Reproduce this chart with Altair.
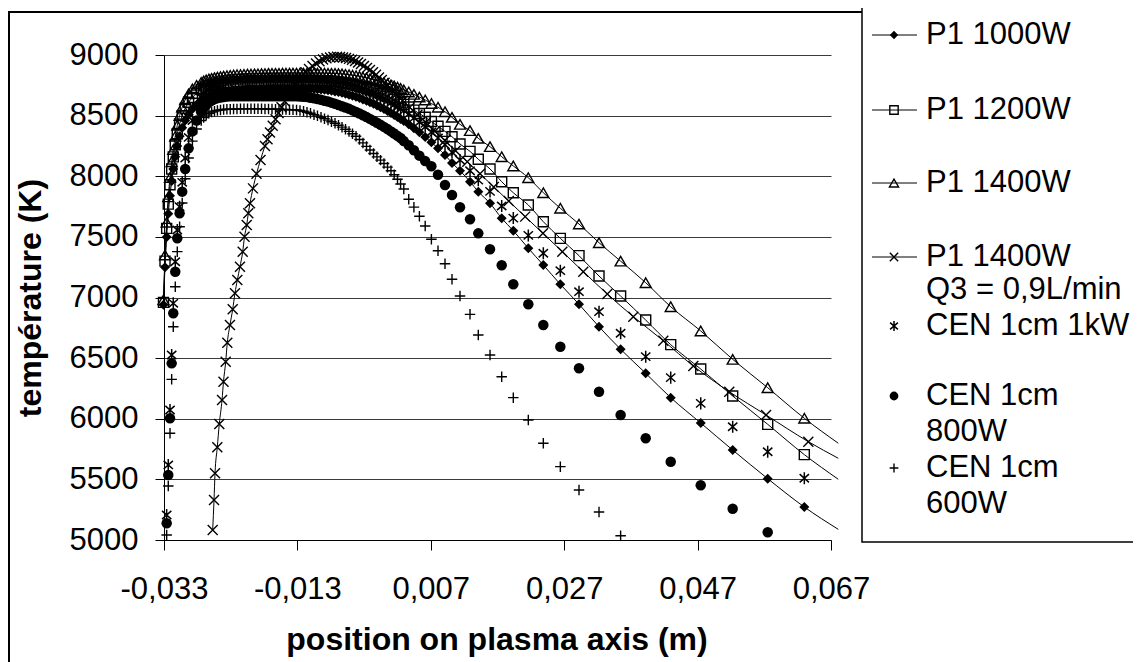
import altair as alt
import pandas as pd

# ---------------- data ----------------
# shared x positions (m) of the six main series
x_mesh = [-0.03308, -0.03285, -0.03260, -0.03236, -0.03210, -0.03185, -0.03161, -0.03131, -0.03101, -0.03066,
          -0.03027, -0.02982, -0.02931, -0.02874, -0.02811, -0.02742, -0.02705, -0.02667, -0.02627, -0.02586,
          -0.02543, -0.02499, -0.02453, -0.02406, -0.02357, -0.02307, -0.02257, -0.02206, -0.02153, -0.02101,
          -0.02048, -0.01996, -0.01943, -0.01891, -0.01838, -0.01786, -0.01733, -0.01681, -0.01628, -0.01576,
          -0.01523, -0.01471, -0.01418, -0.01366, -0.01313, -0.01261, -0.01208, -0.01156, -0.01104, -0.01051,
          -0.00999, -0.00946, -0.00894, -0.00841, -0.00789, -0.00736, -0.00684, -0.00631, -0.00579, -0.00526,
          -0.00474, -0.00421, -0.00369, -0.00317, -0.00264, -0.00212, -0.00159, -0.00107, -0.00054, -0.00002,
          0.00051, 0.00103, 0.00151, 0.00201, 0.00247, 0.00295, 0.00369, 0.00447, 0.00529, 0.00616,
          0.00709, 0.00808, 0.00913, 0.01018, 0.01138, 0.01288, 0.01412, 0.01588, 0.01763, 0.01937,
          0.02162, 0.02387, 0.02642, 0.02922, 0.03222, 0.03546, 0.03922, 0.04297, 0.04747, 0.05226,
          0.05751, 0.06300, 0.06809]

p1_1000w = [6940, 7250, 7500, 7690, 7840, 7960, 8060, 8160, 8250, 8330,
            8400, 8460, 8510, 8555, 8590, 8620, 8633, 8645, 8655, 8665,
            8673, 8680, 8686, 8692, 8696, 8700, 8703, 8706, 8709, 8711,
            8713, 8714, 8715, 8716, 8717, 8718, 8719, 8719, 8720, 8720,
            8720, 8720, 8720, 8720, 8720, 8720, 8720, 8720, 8720, 8719,
            8718, 8716, 8713, 8709, 8705, 8700, 8694, 8688, 8681, 8673,
            8664, 8655, 8645, 8634, 8623, 8611, 8598, 8584, 8570, 8555,
            8539, 8522, 8506, 8488, 8472, 8456, 8428, 8396, 8362, 8323,
            8280, 8231, 8175, 8110, 8046, 7955, 7873, 7777, 7653, 7551,
            7406, 7268, 7109, 6944, 6759, 6573, 6375, 6174, 5965, 5742,
            5506, 5272, 5088]

p1_1200w = [6960, 7300, 7570, 7770, 7930, 8060, 8160, 8260, 8350, 8430,
            8500, 8560, 8610, 8650, 8685, 8715, 8725, 8735, 8743, 8750,
            8755, 8760, 8764, 8768, 8771, 8774, 8776, 8778, 8780, 8782,
            8784, 8785, 8786, 8787, 8788, 8789, 8790, 8790, 8790, 8790,
            8790, 8790, 8790, 8790, 8790, 8790, 8790, 8790, 8790, 8790,
            8790, 8789, 8788, 8786, 8783, 8780, 8776, 8772, 8767, 8761,
            8755, 8748, 8740, 8732, 8723, 8714, 8704, 8694, 8682, 8670,
            8658, 8646, 8633, 8620, 8607, 8593, 8571, 8545, 8517, 8487,
            8451, 8412, 8370, 8326, 8266, 8205, 8140, 8060, 7955, 7864,
            7763, 7625, 7488, 7345, 7177, 7012, 6814, 6611, 6410, 6188,
            5954, 5704, 5501]

p1_1400w = [6980, 7350, 7620, 7830, 7990, 8120, 8220, 8330, 8420, 8500,
            8570, 8630, 8680, 8720, 8750, 8775, 8786, 8795, 8802, 8808,
            8813, 8818, 8822, 8826, 8829, 8832, 8835, 8837, 8839, 8840,
            8842, 8843, 8844, 8845, 8846, 8847, 8848, 8848, 8849, 8849,
            8850, 8850, 8850, 8850, 8850, 8850, 8850, 8850, 8850, 8850,
            8850, 8850, 8850, 8849, 8849, 8848, 8846, 8844, 8841, 8837,
            8833, 8829, 8824, 8818, 8812, 8805, 8798, 8790, 8781, 8772,
            8763, 8754, 8745, 8735, 8724, 8713, 8695, 8675, 8653, 8629,
            8600, 8569, 8532, 8486, 8428, 8376, 8313, 8244, 8161, 8085,
            7988, 7864, 7736, 7606, 7452, 7300, 7122, 6924, 6724, 6490,
            6256, 6004, 5798]

cen_1kw = [None, None, 5206, 5619, 6072, 6526, 6952, 7295, 7557, 7749,
           7950, 8150, 8320, 8460, 8570, 8650, 8683, 8710, 8730, 8745,
           8759, 8770, 8778, 8785, 8789, 8793, 8796, 8798, 8800, 8801,
           8802, 8803, 8804, 8804, 8805, 8805, 8805, 8805, 8805, 8805,
           8805, 8805, 8805, 8805, 8805, 8805, 8805, 8805, 8805, 8804,
           8803, 8801, 8798, 8794, 8790, 8785, 8779, 8773, 8766, 8758,
           8749, 8740, 8730, 8719, 8708, 8696, 8683, 8669, 8655, 8640,
           8624, 8607, 8591, 8573, 8557, 8541, 8513, 8481, 8447, 8408,
           8365, 8316, 8260, 8198, 8134, 8045, 7968, 7875, 7755, 7655,
           7512, 7365, 7221, 7048, 6883, 6705, 6512, 6339, 6127, 5934,
           5728, 5509, None]

cen_800w = [None, None, 5138, 5536, 6004, 6457, 6870, 7213, 7488, 7694,
            7873, 8060, 8230, 8370, 8460, 8530, 8565, 8590, 8610, 8625,
            8636, 8644, 8650, 8654, 8657, 8659, 8660, 8660, 8660, 8660,
            8660, 8660, 8660, 8660, 8660, 8660, 8660, 8660, 8660, 8660,
            8660, 8660, 8660, 8660, 8660, 8658, 8656, 8653, 8648, 8643,
            8637, 8631, 8623, 8616, 8607, 8598, 8588, 8578, 8567, 8556,
            8543, 8530, 8517, 8503, 8488, 8473, 8457, 8441, 8424, 8407,
            8389, 8370, 8352, 8333, 8315, 8290, 8255, 8215, 8170, 8125,
            8082, 8012, 7928, 7845, 7744, 7645, 7529, 7398, 7266, 7109,
            6944, 6773, 6594, 6416, 6223, 6031, 5839, 5646, 5451, 5258,
            5064, None, None]

cen_600w = [None, None, 5041, 5445, 5880, 6325, 6759, 7089, 7378, 7584,
            7780, 7980, 8150, 8290, 8390, 8460, 8485, 8505, 8520, 8530,
            8537, 8543, 8547, 8550, 8552, 8553, 8554, 8555, 8556, 8556,
            8556, 8556, 8556, 8556, 8556, 8555, 8555, 8554, 8553, 8552,
            8551, 8550, 8549, 8548, 8546, 8542, 8536, 8528, 8519, 8508,
            8498, 8487, 8475, 8463, 8450, 8437, 8421, 8405, 8388, 8370,
            8350, 8330, 8303, 8275, 8246, 8216, 8188, 8160, 8133, 8105,
            8075, 8045, 8012, 7975, 7936, 7895, 7810, 7745, 7670, 7590,
            7480, 7385, 7278, 7150, 7012, 6861, 6691, 6526, 6347, 6174,
            5990, 5798, 5605, 5412, 5231, 5035, None, None, None, None,
            None, None, None]

# P1 1400W, Q3 = 0,9 L/min has its own positions
q3_x = [-0.02570, -0.02550, -0.02535, -0.02501, -0.02471, -0.02430, -0.02408, -0.02375, -0.02351, -0.02311,
        -0.02270, -0.02236, -0.02201, -0.02161, -0.02120, -0.02093, -0.02060, -0.02036, -0.02011, -0.01966,
        -0.01913, -0.01853, -0.01786, -0.01748, -0.01711, -0.01670, -0.01628, -0.01583, -0.01538, -0.01490,
        -0.01441, -0.01389, -0.01336, -0.01283, -0.01231, -0.01179, -0.01126, -0.01074, -0.01021, -0.00969,
        -0.00916, -0.00864, -0.00811, -0.00759, -0.00706, -0.00661, -0.00616, -0.00571, -0.00526, -0.00481,
        -0.00436, -0.00391, -0.00347, -0.00302, -0.00257, -0.00212, -0.00167, -0.00122, -0.00077, -0.00035,
        0.00007, 0.00048, 0.00090, 0.00135, 0.00180, 0.00228, 0.00277, 0.00384, 0.00499, 0.00625,
        0.00761, 0.00910, 0.01072, 0.01247, 0.01438, 0.01644, 0.01869, 0.02115, 0.02382, 0.02672,
        0.02986, 0.03346, 0.03736, 0.04186, 0.04636, 0.05175, 0.05726, 0.06360, 0.06809]
q3_y = [5082, 5330, 5550, 5765, 5957, 6155, 6306, 6470, 6627, 6773,
        6903, 7035, 7144, 7254, 7378, 7501, 7598, 7694, 7777, 7900,
        8020, 8135, 8250, 8306, 8360, 8416, 8470, 8521, 8570, 8619,
        8665, 8709, 8750, 8789, 8825, 8857, 8885, 8909, 8930, 8948,
        8962, 8973, 8980, 8984, 8985, 8983, 8980, 8975, 8968, 8960,
        8950, 8938, 8925, 8910, 8893, 8876, 8857, 8837, 8815, 8794,
        8772, 8750, 8726, 8701, 8676, 8650, 8624, 8568, 8508, 8443,
        8372, 8295, 8210, 8119, 8020, 7912, 7795, 7667, 7529, 7378,
        7213, 7029, 6842, 6644, 6435, 6223, 6031, 5811, 5674]

series_names = ["P1 1000W", "P1 1200W", "P1 1400W", "P1 1400W Q3 = 0,9L/min",
                "CEN 1cm 1kW", "CEN 1cm 800W", "CEN 1cm 600W"]
legend_lines = [["P1 1000W"], ["P1 1200W"], ["P1 1400W"], ["P1 1400W", "Q3 = 0,9L/min"],
                ["CEN 1cm 1kW"], ["CEN 1cm", "800W"], ["CEN 1cm", "600W"]]

x_ticks = [-0.033, -0.013, 0.007, 0.027, 0.047, 0.067]
y_ticks = [5000, 5500, 6000, 6500, 7000, 7500, 8000, 8500, 9000]

# ---------------- build table ----------------
rows = []
for name, xs, ys in [(series_names[0], x_mesh, p1_1000w), (series_names[1], x_mesh, p1_1200w),
                     (series_names[2], x_mesh, p1_1400w), (series_names[3], q3_x, q3_y),
                     (series_names[4], x_mesh, cen_1kw), (series_names[5], x_mesh, cen_800w),
                     (series_names[6], x_mesh, cen_600w)]:
    for xv, yv in zip(xs, ys):
        if yv is not None:
            rows.append({"series": name, "x": xv, "y": yv})
df = pd.DataFrame(rows)

FONT = "Liberation Sans"
FS = 31
TFS = 32
PLOT_W, PLOT_H = 667, 485

XSHAPE = "M-1,-1L1,1M-1,1L1,-1"
STAR = "M0,-1.1L0,1.1M-0.85,-0.75L0.85,0.75M-0.85,0.75L0.85,-0.75"
PLUS = "M-1,0L1,0M0,-1L0,1"

styles = [
    dict(shape="diamond", filled=True, size=100, sw=1, line=True),
    dict(shape="square", filled=False, size=100, sw=1.4, line=True),
    dict(shape="triangle-up", filled=False, size=120, sw=1.4, line=True),
    dict(shape=XSHAPE, filled=False, size=100, sw=1.4, line=True),
    dict(shape=STAR, filled=False, size=120, sw=1.5, line=False),
    dict(shape="circle", filled=True, size=110, sw=1, line=False),
    dict(shape=PLUS, filled=False, size=110, sw=1.4, line=False),
]

x_enc = alt.X("x:Q",
              scale=alt.Scale(domain=[-0.033, 0.067], nice=False, zero=False),
              axis=alt.Axis(values=x_ticks,
                            labelExpr="(datum.value < 0 ? '-' : '') + replace(format(abs(datum.value), '.3f'), '.', ',')",
                            grid=False, tickSize=10, labelPadding=24, labelFontSize=FS, labelFont=FONT,
                            labelColor="black", domainColor="black", tickColor="black",
                            labelFlush=False, labelOverlap=False, title=None))
y_enc = alt.Y("y:Q",
              scale=alt.Scale(domain=[5000, 9000], nice=False, zero=False),
              axis=alt.Axis(values=y_ticks, format="d", grid=True, gridColor="#3a3a3a", gridWidth=1,
                            tickSize=9, labelPadding=17, labelFontSize=FS, labelFont=FONT,
                            labelColor="black", domainColor="black", tickColor="black",
                            labelOverlap=False, title=None))

base = alt.Chart(df).encode(x=x_enc, y=y_enc)

layers = []
# lines first
for name, st in zip(series_names, styles):
    if st["line"]:
        layers.append(base.transform_filter(alt.datum.series == name)
                      .mark_line(color="black", strokeWidth=1, interpolate="monotone"))
# markers
for name, st in zip(series_names, styles):
    kw = dict(shape=st["shape"], filled=st["filled"], size=st["size"], opacity=1,
              strokeWidth=st["sw"], color="black")
    layers.append(base.transform_filter((alt.datum.series == name) & (alt.datum.x <= 0.0671))
                  .mark_point(**kw))

# ---------------- decorations (legend, titles, frame) ----------------
one = pd.DataFrame({"k": [0]})
OX, OY = 164, 55  # page position of plot origin


def px(v):
    return alt.value(v - OX)


def py(v):
    return alt.value(v - OY)


# outer chart frame
layers.append(alt.Chart(one).mark_rect(fillOpacity=0, stroke="black", strokeWidth=2).encode(
    x=px(9), x2=px(1400), y=py(12), y2=py(900)))
# legend box
layers.append(alt.Chart(one).mark_rect(fill="white", stroke="black", strokeWidth=1.5).encode(
    x=px(862), x2=px(1400), y=py(-40), y2=py(542)))

legend_y = [[35], [110], [183], [257, 290], [326], [396, 432], [468, 504]]
for st, lines, ys in zip(styles, legend_lines, legend_y):
    y0 = ys[0]
    if st["line"]:
        layers.append(alt.Chart(one).mark_rule(color="black", strokeWidth=1).encode(
            x=px(872), x2=px(917), y=py(y0)))
    layers.append(alt.Chart(one).mark_point(shape=st["shape"], filled=st["filled"], opacity=1,
                                             size=st["size"] * 0.7, strokeWidth=st["sw"],
                                             color="black").encode(x=px(894), y=py(y0)))
    for txt, yy in zip(lines, ys):
        layers.append(alt.Chart(one).mark_text(align="left", baseline="middle", fontSize=FS,
                                                font=FONT, color="black").encode(
            x=px(926), y=py(yy), text=alt.value(txt)))

# axis titles
layers.append(alt.Chart(one).mark_text(align="center", baseline="middle", fontSize=TFS, font=FONT,
                                        fontWeight="bold", color="black").encode(
    x=px(497), y=py(640), text=alt.value("position on plasma axis (m)")))
layers.append(alt.Chart(one).mark_text(align="center", baseline="middle", fontSize=TFS, font=FONT,
                                        fontWeight="bold", color="black", angle=270).encode(
    x=px(31), y=py(298), text=alt.value("température (K)")))

chart = alt.layer(*layers).properties(
    width=PLOT_W, height=PLOT_H,
    padding={"left": 156, "top": 47, "right": 302, "bottom": 122},
    autosize=alt.AutoSizeParams(type="none"),
    background="white",
).configure_view(strokeOpacity=0)

chart.save("out.html", embed_options={"renderer": "svg", "actions": False})
